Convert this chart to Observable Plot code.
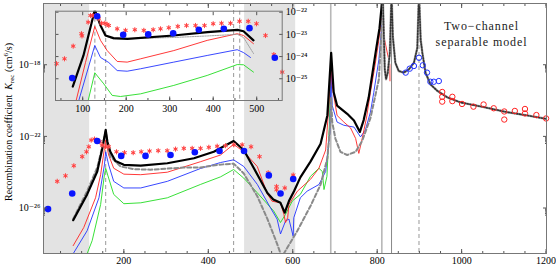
<!DOCTYPE html>
<html><head><meta charset="utf-8">
<script src="https://cdn.jsdelivr.net/npm/d3@7"></script>
<script src="https://cdn.jsdelivr.net/npm/@observablehq/plot@0.6"></script>
<style>
body{margin:0;background:#fff;}
#wrap{position:relative;width:556px;height:267px;}
#wrap svg{position:absolute;left:0;top:0;}
</style></head><body><div id="wrap"></div>
<script>
// ---------- data (x value, log10 of K_rec) ----------
const shadeBands = [[9.7, 119], [486, 607]];
const mainDashed = [157, 460, 899];
const mainSolidLight = [690, 811];
const mainSolidDark = [834];
const xMajor = [200, 400, 600, 800, 1000, 1200];
const yMajorExp = [-18, -22, -26];

const mainBlack = [[80,-26.68],[113,-25.24],[137,-23.96],[149,-22.67],[157,-21.64],[161,-22.30],[168,-22.86],[180,-23.37],[200,-23.59],[240,-23.63],[303,-23.50],[366,-23.22],[413,-22.86],[460,-22.26],[484,-22.76],[508,-23.78],[540,-25.16],[554,-25.52],[571,-25.71],[581,-26.26],[591,-25.61],[603,-25.06],[618,-24.29],[642,-23.41],[666,-22.41],[682,-20.83],[691,-17.34],[697,-19.54],[705,-20.28],[729,-20.74],[745,-21.11],[759,-21.75],[768,-21.09],[780,-19.82],[789,-18.44],[798,-17.06],[805.5,-15.96],[810,-14.86],[813,-14.0]];
const mainRed = [[80,-28.10],[105,-27.09],[133,-25.43],[145,-24.14],[154,-22.67],[157,-22.21],[164,-23.04],[176,-23.78],[200,-24.11],[240,-24.14],[303,-24.0],[382,-23.41],[429,-23.04],[460,-22.44],[484,-22.86],[516,-23.68],[540,-25.22],[551,-25.62],[571,-25.71],[579,-26.35],[583,-26.81],[588,-26.54],[591,-25.80],[611,-25.06],[642,-24.40],[662,-23.78],[678,-22.76],[685,-20.47],[691,-17.61],[693.5,-19.18],[705,-20.83],[721,-21.20],[737,-21.53],[749,-22.12],[756.5,-22.95],[764.5,-22.12],[775,-20.92],[784,-19.54],[794,-18.17],[803,-16.79],[810,-15.41],[813,-14.0],[816,-16.42],[824,-17.34],[830,-18.0],[830.3,-18.9]];
const mainBlue = [[80,-28.55],[113,-27.27],[141,-25.43],[154,-23.59],[157,-22.86],[164,-23.59],[176,-24.51],[200,-24.88],[240,-24.88],[303,-24.51],[382,-23.79],[429,-23.46],[460,-23.31],[484,-23.68],[516,-24.68],[547,-25.98],[563,-26.62],[571,-27.45],[583,-26.72],[591,-26.62],[601,-27.58],[602.5,-26.54],[618,-25.43],[634,-25.06],[662,-24.69],[678,-23.96],[688,-21.75],[690.5,-18.44],[693.5,-20.28],[705,-21.20],[721,-21.38],[745,-21.48],[760.5,-22.03],[772,-21.64],[784,-20.65],[792,-19.54],[804,-17.71],[810,-16.05],[813,-14.0]];
const mainGreen = [[104,-29.1],[125,-27.82],[145,-25.80],[154,-24.14],[157,-23.78],[164,-24.33],[176,-25.24],[200,-25.76],[240,-25.71],[303,-25.43],[382,-24.68],[429,-24.26],[460,-23.85],[484,-24.33],[516,-25.15],[555,-26.17],[571,-26.81],[583,-26.35],[599,-25.61],[618,-25.24],[642,-24.23],[662,-23.78],[670,-23.96],[674,-24.97],[681,-24.23],[687,-21.20],[690.5,-17.34]];
const mainGray = [[80,-26.61],[113,-25.06],[137,-23.74],[149,-22.58],[157,-21.7],[161,-22.41],[168,-23.13],[192,-23.68],[224,-23.83],[263,-23.86],[342,-23.74],[382,-23.74],[421,-23.59],[460,-23.52],[484,-24.07],[516,-25.34],[540,-26.61],[563,-28.0],[571,-28.54],[575,-28.92],[579,-28.54],[611,-27.27],[642,-25.89],[666,-24.69],[682,-23.22],[690,-21.02],[691,-19.82],[693.5,-21.20],[701,-22.12],[713,-22.86],[729,-23.04],[749,-22.86],[764.5,-22.25],[784,-20.98],[804,-18.81],[810,-16.23],[813,-14.0]];
const rightModel = [[813,-14.0],[818,-18.26],[821,-18.81],[825,-18.44],[830,-17.34],[834,-14.0],[837,-16.42],[843,-17.89],[851,-18.35],[863,-18.44],[875,-18.26],[887,-17.89],[895,-17.06],[899,-14.0],[903,-16.60],[907,-17.34],[914.5,-18.44],[926,-19.09],[942,-19.45],[966,-19.82],[997,-20.10],[1053,-20.37],[1108,-20.65],[1155,-20.83],[1200,-21.02]];
const mainStars = [[42.2,-24.51],[61.8,-24.20],[81.5,-23.64],[101.4,-23.13],[111.6,-22.86],[117,-22.58],[122.7,-22.21],[130.5,-22.15],[143.1,-22.30],[148.7,-22.49],[156.6,-22.58],[164.4,-22.58],[182.6,-22.86],[201.6,-22.91],[222.2,-22.91],[241.1,-22.86],[260.8,-22.82],[281.4,-22.80],[302.7,-22.80],[322.4,-22.71],[342,-22.67],[361.9,-22.67],[381.6,-22.67],[401.2,-22.61],[421.1,-22.55],[440.8,-22.52],[460.4,-22.47],[480.3,-22.47],[501.2,-22.58],[521.3,-23.13],[541.9,-24.03],[561.6,-24.80],[561.6,-24.98],[581.2,-24.88],[601.1,-24.16]];
const mainDots = [[20.4,-26.06],[77.7,-25.19],[136.9,-22.26],[193.7,-23.09],[251.3,-23.09],[310.5,-23.04],[368.1,-22.89],[426.6,-22.82],[484.6,-22.82],[543.3,-24.18],[571.1,-25.19],[601.1,-24.38]];
const blueOpen = [[867.5,-18.44],[877,-18.22],[887,-18.07],[899,-17.61],[908,-18.03],[918,-18.44],[926,-18.95],[934,-18.95],[946,-18.91]];
const redOpen = [[954,-19.52],[954,-19.79],[954,-20.06],[978,-19.79],[978,-20.03],[1001,-20.19],[1028,-20.34],[1052,-20.22],[1076,-20.43],[1101,-20.61],[1101,-21.06],[1126,-20.58],[1150,-20.47],[1150,-20.72],[1177,-20.81],[1200,-21.0]];
const modelTitle = ["Two\u2212channel", "separable model"];

// inset
const insetDashed = [128, 461];
const insetXMajor = [100, 200, 300, 400, 500];
const insetYMajorExp = [-22, -23, -24, -25];
const insetBlack = [[77.2,-25.35],[101.8,-23.95],[127.8,-21.9],[141,-22.6],[152.4,-23.05],[170.8,-23.17],[203,-23.2],[308.7,-23.05],[386.9,-22.9],[455.9,-22.8],[469.7,-22.86],[492.6,-23.27]];
const insetRed = [[85,-25.98],[106.4,-24.27],[127.8,-22.64],[141,-23.27],[156.3,-23.73],[179.3,-24.22],[202.3,-24.25],[233.3,-24.10],[309.4,-23.73],[386.2,-23.27],[455.2,-22.97],[469.7,-23.05],[492.6,-23.42]];
const insetBlue = [[91,-25.98],[127.8,-23.5],[141,-24.04],[160,-24.27],[179.3,-24.63],[202.3,-24.66],[233,-24.55],[309.4,-24.25],[386.2,-23.95],[455.2,-23.69],[469.7,-23.82],[485.7,-24.04]];
const insetGreen = [[112.6,-25.98],[127.8,-24.73],[148.5,-25.23],[167.8,-25.75],[186.9,-25.8],[233,-25.68],[309.4,-25.30],[386.2,-24.85],[455.2,-24.36],[469.7,-24.37],[492.6,-24.7]];
const insetGrayThin = [[152.4,-23.07],[170.8,-23.21],[308.7,-23.14],[386.9,-23.07],[455.9,-23.0],[469.7,-23.14],[492.6,-23.86]];
const insetStars = [[39.8,-24.32],[58.2,-24.10],[78.2,-23.53],[97.2,-22.97],[98.4,-23.07],[112.6,-22.45],[117.9,-22.15],[123.2,-22.15],[129.4,-22.15],[137,-22.30],[143.2,-22.50],[150.8,-22.50],[156.3,-22.55],[160,-22.60],[179.3,-22.75],[198.4,-22.82],[219.8,-22.79],[240.5,-22.82],[262.1,-22.79],[278.9,-22.75],[297.9,-22.70],[318.6,-22.64],[338.6,-22.60],[359.3,-22.60],[380,-22.60],[400,-22.52],[419.1,-22.50],[439.8,-22.50],[460.5,-22.41],[480.5,-22.41],[499.5,-22.52],[520.2,-23.05],[539.3,-23.91],[558.6,-24.70]];
const insetDots = [[75.9,-24.97],[133.3,-22.18],[193.1,-23.02],[250.6,-23.0],[308,-22.95],[366.9,-22.79],[424.4,-22.75],[483.4,-22.72],[541.6,-24.05]];

// ---------- helpers ----------
const P = a => a.map(([x, e]) => ({x, y: 10 ** e}));
const supMap = {"-":"\u207B","0":"\u2070","1":"\u00B9","2":"\u00B2","3":"\u00B3","4":"\u2074","5":"\u2075","6":"\u2076","7":"\u2077","8":"\u2078","9":"\u2079"};
const fmtPow = d => "10" + String(Math.round(Math.log10(d))).replace(/[-0-9]/g, c => supMap[c]);
const yMajor = yMajorExp.map(e => 10 ** e);
const yMinor = yMajorExp.flatMap(e => [4,5,6,7,8,9].map(k => k * 10 ** (e - 1)));
const xMinor = d3.range(50, 1201, 50);
const insetYMajor = insetYMajorExp.map(e => 10 ** e);
const insetXMinor = d3.range(50, 551, 50);
const FONT = "'Liberation Serif', 'DejaVu Serif', serif";
const empty = () => "";

const lineOpts = (stroke, sw, extra = {}) => ({x: "x", y: "y", stroke, strokeWidth: sw, clip: true, ...extra});
const starOpts = {x: "x", y: "y", symbol: "asterisk", r: 2.4, stroke: "#ff3b3b", strokeWidth: 1, strokeOpacity: 0.9};
const haloOpts = {x: "x", y: "y", r: 1.8, fill: "#ff9a9a", fillOpacity: 0.8};

const main = Plot.plot({
  width: 556, height: 267,
  marginLeft: 43, marginRight: 10, marginTop: 3, marginBottom: 14,
  style: {fontFamily: FONT, fontSize: "10px", background: "transparent", color: "#000"},
  x: {domain: [9.7, 1201], label: null},
  y: {type: "log", domain: [10 ** -28.54, 10 ** -14.58], label: null},
  marks: [
    Plot.rect(shadeBands.map(([a, b]) => ({a, b})), {x1: "a", x2: "b", fill: "#e3e3e3"}),
    Plot.ruleX(mainDashed, {stroke: "#999", strokeWidth: 1, strokeDasharray: "4,3"}),
    Plot.ruleX(mainSolidLight, {stroke: "#b8b8b8", strokeWidth: 1.6}),
    Plot.ruleX(mainSolidDark, {stroke: "#888", strokeWidth: 1}),
    Plot.line(P(mainGreen), lineOpts("#22dd22", 0.9)),
    Plot.line(P(mainBlue), lineOpts("#2233ff", 0.9)),
    Plot.line(P(mainRed), lineOpts("#ff2222", 0.9)),
    Plot.line(P(mainGray), lineOpts("#8a8a8a", 2, {strokeDasharray: "4,2.5"})),
    Plot.line(P(mainBlack), lineOpts("#000", 2.2)),
    Plot.line(P(rightModel), lineOpts("#a8a8a8", 2.4)),
    Plot.line(P(rightModel), lineOpts("#333", 1.6, {strokeDasharray: "1.2,1.6"})),
    Plot.dot(P(mainStars), haloOpts),
    Plot.dot(P(mainStars), starOpts),
    Plot.dot(P(mainDots), {x: "x", y: "y", r: 3.3, fill: "#0a14ff"}),
    Plot.dot(P(blueOpen), {x: "x", y: "y", r: 2.7, stroke: "#2233ff", strokeWidth: 1}),
    Plot.dot(P(redOpen), {x: "x", y: "y", r: 2.7, stroke: "#ff2222", strokeWidth: 1}),
    Plot.text([modelTitle[0]], {frameAnchor: "top-right", dx: -65, dy: 17.5, textAnchor: "middle", fontSize: 12, fill: "#222"}),
    Plot.text([modelTitle[1]], {frameAnchor: "top-right", dx: -65, dy: 34, textAnchor: "middle", fontSize: 12, fill: "#222"}),
    Plot.axisX(xMajor, {anchor: "bottom", tickSize: 0, tickPadding: 3, tickFormat: d => String(d), label: null}),
    Plot.axisX(xMajor, {anchor: "bottom", tickSize: -4, tickFormat: empty, label: null, stroke: "#555"}),
    Plot.axisX(xMinor, {anchor: "bottom", tickSize: -2, tickFormat: empty, label: null, stroke: "#555"}),
    Plot.axisX(xMajor, {anchor: "top", tickSize: -4, tickFormat: empty, label: null, stroke: "#555"}),
    Plot.axisX(xMinor, {anchor: "top", tickSize: -2, tickFormat: empty, label: null, stroke: "#555"}),
    Plot.axisY(yMajor, {anchor: "left", tickSize: 0, tickPadding: 3, tickFormat: fmtPow, label: null}),
    Plot.axisY(yMajor, {anchor: "left", tickSize: -4, tickFormat: empty, label: null, stroke: "#555"}),
    Plot.axisY(yMinor, {anchor: "left", tickSize: -2, tickFormat: empty, label: null, stroke: "#555"}),
    Plot.axisY(yMajor, {anchor: "right", tickSize: -4, tickFormat: empty, label: null, stroke: "#555"}),
    Plot.axisY(yMinor, {anchor: "right", tickSize: -2, tickFormat: empty, label: null, stroke: "#555"}),
    Plot.frame({stroke: "#777"})
  ]
});

const inset = Plot.plot({
  width: 320, height: 122,
  marginLeft: 55, marginRight: 38.3, marginTop: 10.7, marginBottom: 22,
  style: {fontFamily: FONT, fontSize: "10px", background: "transparent", color: "#000", overflow: "visible"},
  x: {domain: [37.5, 558.6], label: null},
  y: {type: "log", domain: [10 ** -25.98, 10 ** -21.955], label: null},
  marks: [
    Plot.ruleX(insetDashed, {stroke: "#999", strokeWidth: 1, strokeDasharray: "4,3"}),
    Plot.line(P(insetGreen), lineOpts("#22dd22", 0.9)),
    Plot.line(P(insetBlue), lineOpts("#2233ff", 0.9)),
    Plot.line(P(insetRed), lineOpts("#ff2222", 0.9)),
    Plot.line(P(insetGrayThin), lineOpts("#999", 0.9, {strokeDasharray: "1.5,1"})),
    Plot.line(P(insetBlack), lineOpts("#000", 2.2)),
    Plot.dot(P(insetStars), haloOpts),
    Plot.dot(P(insetStars), starOpts),
    Plot.dot(P(insetDots), {x: "x", y: "y", r: 3.3, fill: "#0a14ff"}),
    Plot.axisX(insetXMajor, {anchor: "bottom", tickSize: 0, tickPadding: 4, tickFormat: d => String(d), label: null}),
    Plot.axisX(insetXMajor, {anchor: "bottom", tickSize: -3.5, tickFormat: empty, label: null, stroke: "#555"}),
    Plot.axisX(insetXMinor, {anchor: "bottom", tickSize: -2, tickFormat: empty, label: null, stroke: "#555"}),
    Plot.axisX(insetXMajor, {anchor: "top", tickSize: -3.5, tickFormat: empty, label: null, stroke: "#555"}),
    Plot.axisY(insetYMajor, {anchor: "right", tickSize: 0, tickPadding: 3.5, tickFormat: fmtPow, label: null}),
    Plot.axisY(insetYMajor, {anchor: "right", tickSize: -3.5, tickFormat: empty, label: null, stroke: "#555"}),
    Plot.axisY(insetYMajor, {anchor: "left", tickSize: -3.5, tickFormat: empty, label: null, stroke: "#555"}),
    Plot.frame({stroke: "#777"})
  ]
});

const wrap = document.getElementById("wrap");
wrap.appendChild(main);
wrap.appendChild(inset);

// title letter spacing
d3.select(main).selectAll("text").filter(function() { return modelTitle.includes(this.textContent); })
  .style("letter-spacing", "0.9px");

// y-axis label with italic K and subscript
const t = d3.select(main).append("text")
  .attr("transform", "translate(11.5,122) rotate(-90)")
  .attr("text-anchor", "middle").attr("font-size", 10).attr("font-family", FONT).attr("fill", "#000");
t.append("tspan").text("Recombination coefficient  ");
t.append("tspan").attr("font-style", "italic").text("K");
t.append("tspan").attr("font-size", 7).attr("dy", 2).text("rec");
t.append("tspan").attr("dy", -2).text(" (cm");
t.append("tspan").attr("font-size", 7).attr("dy", -4).text("6");
t.append("tspan").attr("dy", 4).text("/s)");
</script></body></html>
